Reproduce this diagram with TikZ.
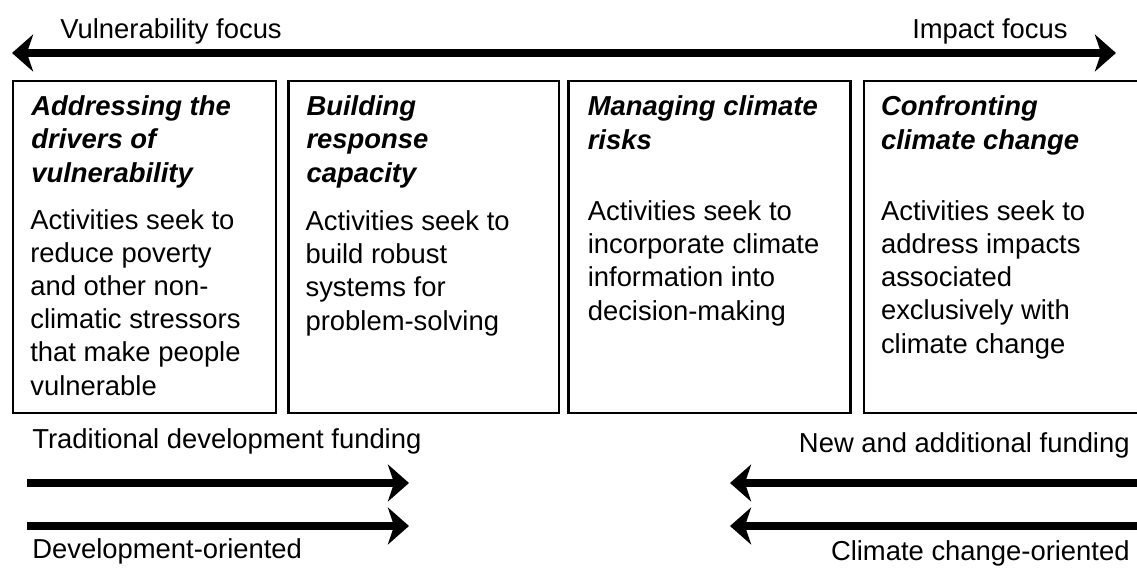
\documentclass[tikz,border=0pt]{standalone}
\usepackage{fontspec}
\setmainfont{Liberation Sans}
\usetikzlibrary{arrows.meta, positioning, calc}

\begin{document}
\begin{tikzpicture}[
    x=0.02cm, y=-0.02cm,
    every node/.style={inner sep=0pt, font=\fontsize{15.6}{18.8}\selectfont},
    box/.style={draw, rectangle, line width=1.3pt, minimum height=6.64cm},
    ttl/.style={align=left, anchor=base west, font=\fontsize{15.6}{18.8}\selectfont\bfseries\itshape},
    txt/.style={align=left, anchor=base west},
    lbl/.style={anchor=base west},
    fattip/.tip={Stealth[length=12pt, width=21pt, inset=3.5pt]},
    fatarrow/.style={line width=4.8pt, -fattip},
    fatboth/.style={line width=4.3pt, fattip-fattip}
]
\useasboundingbox (0,0) rectangle (1137,568);
\clip (0,0) rectangle (1137,568);

% focus axis
\coordinate (vulnend) at (12,53);
\coordinate (impactend) at (1116,53);
\draw [fatboth] (vulnend) -- (impactend);
\node (vulnlbl) [lbl] at (60,38) {Vulnerability focus};
\node (impactlbl) [lbl, anchor=base east] at (1068,38) {Impact focus};

% the four boxes (text nodes sit on the baseline of their last line)
\node (box1) [box, anchor=north west, minimum width=5.26cm] at (12,80) {};
\node (box2) [box, right=0.2cm of box1, minimum width=5.42cm] {};
\node (box3) [box, right=0.14cm of box2, minimum width=5.64cm] {};
\node (box4) [box, right=0.22cm of box3, minimum width=5.80cm] {};

\node (ttl1) [ttl] at ($(box1.north west)+(19,102)$) {Addressing the\\drivers of\\vulnerability};
\node (txt1) [txt] at ($(box1.north west)+(18,315)$) {Activities seek to\\reduce poverty\\and other non-\\climatic stressors\\that make people\\vulnerable};

\node (ttl2) [ttl] at ($(box2.north west)+(19,102)$) {Building\\response\\capacity};
\node (txt2) [txt] at ($(box2.north west)+(18,250)$) {Activities seek to\\build robust\\systems for\\problem-solving};

\node (ttl3) [ttl] at ($(box3.north west)+(20,69)$) {Managing climate\\risks};
\node (txt3) [txt] at ($(box3.north west)+(20,240)$) {Activities seek to\\incorporate climate\\information into\\decision-making};

\node (ttl4) [ttl] at ($(box4.north west)+(18,69)$) {Confronting\\climate change};
\node (txt4) [txt] at ($(box4.north west)+(18,273)$) {Activities seek to\\address impacts\\associated\\exclusively with\\climate change};

% funding arrows
\node (tradlbl) [lbl] at (32,448) {Traditional development funding};
\node (devlbl) [lbl] at (32,558) {Development-oriented};
\coordinate (trad1) at (27,483);
\coordinate (tradtip1) at (409,483);
\coordinate (trad2) at (27,526);
\coordinate (tradtip2) at (409,526);
\draw [fatarrow] (trad1) -- (tradtip1);
\draw [fatarrow] (trad2) -- (tradtip2);

\node (newlbl) [lbl, anchor=base east] at (1130,452) {New and additional funding};
\node (climlbl) [lbl, anchor=base east] at (1130,560) {Climate change-oriented};
\coordinate (new1) at (1140,483);
\coordinate (newtip1) at (730,483);
\coordinate (new2) at (1140,526);
\coordinate (newtip2) at (730,526);
\draw [fatarrow] (new1) -- (newtip1);
\draw [fatarrow] (new2) -- (newtip2);

\end{tikzpicture}
\end{document}
